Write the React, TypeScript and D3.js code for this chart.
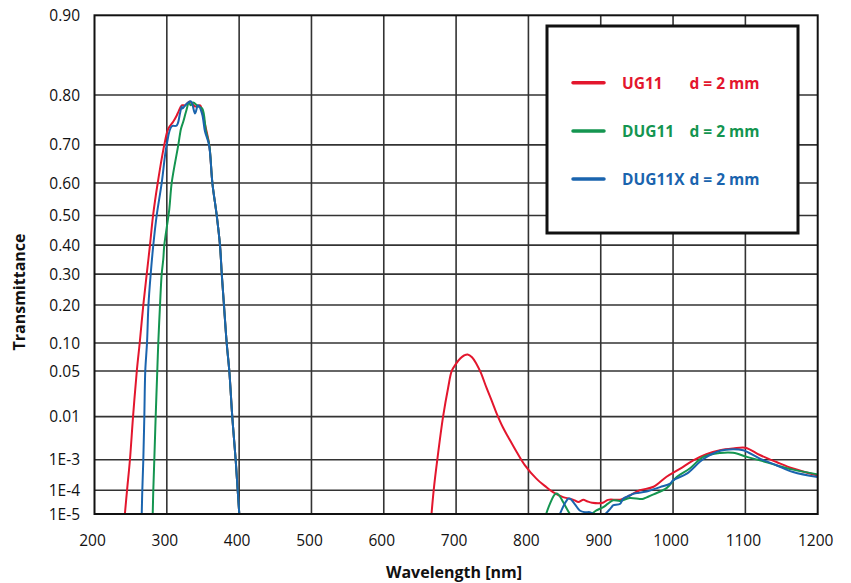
import React from "react";
import * as d3 from "d3";

// ---------- data ----------
const xTicks = [200, 300, 400, 500, 600, 700, 800, 900, 1000, 1100, 1200];
const yTickValues = [0.9, 0.8, 0.7, 0.6, 0.5, 0.4, 0.3, 0.2, 0.1, 0.05, 0.01, 1e-3, 1e-4, 1e-5];
const yTickLabels = ["0.90", "0.80", "0.70", "0.60", "0.50", "0.40", "0.30", "0.20", "0.10", "0.05", "0.01", "1E-3", "1E-4", "1E-5"];

// null = gap (below 1E-5)
const ug11Wl = [242, 245, 249, 253.3, 258.5, 262.5, 267.5, 272.2, 276.7, 281, 287.4, 296.5, 302, 309, 313.7, 316, 320.6, 325, 332, 339, 346, 350, 355, 358.7, 363, 369, 373.5, 376, 379, 382.8, 386.4, 390.5, 395.2, 398, 400.2,
  null,
  666, 669, 674, 682, 689, 694, 700, 706, 711, 716, 722, 728, 734, 742, 750, 756, 765, 772, 784, 795, 811, 825, 834, 848, 857, 864, 869, 876, 881, 888, 903, 910, 927, 940, 954, 973, 991, 1010, 1028, 1046, 1065, 1083, 1100, 1120, 1143, 1166, 1200];
const ug11T = [1e-5, 1e-4, 1e-3, 0.01, 0.05, 0.1, 0.2, 0.3, 0.4, 0.5, 0.6, 0.7, 0.736, 0.751, 0.763, 0.77, 0.782, 0.782, 0.789, 0.78, 0.782, 0.763, 0.73, 0.7, 0.6, 0.5, 0.4, 0.3, 0.2, 0.1, 0.05, 0.01, 1e-3, 1e-4, 1e-5,
  null,
  1e-5, 1e-4, 1e-3, 0.01, 0.03, 0.05, 0.061, 0.07, 0.075, 0.077, 0.072, 0.061, 0.048, 0.03, 0.018, 0.0115, 0.006, 0.0038, 0.0016, 7e-4, 2.6e-4, 1.3e-4, 8.5e-5, 5.4e-5, 4.7e-5, 4e-5, 3.4e-5, 4.2e-5, 3.7e-5, 3.2e-5, 3.2e-5, 4.2e-5, 4.3e-5, 6.3e-5, 1e-4, 1.35e-4, 3e-4, 5.5e-4, 9.6e-4, 1.42e-3, 1.8e-3, 2.0e-3, 2.1e-3, 1.35e-3, 8.6e-4, 5.5e-4, 3.3e-4];

const dug11Wl = [280.5, 281.3, 282.7, 284.6, 286.8, 288.2, 290.6, 292.9, 295.1, 296.5, 303.4, 306.7, 315.9, 319.6, 322.8, 326.5, 330.7, 333, 336.2, 343.5, 349, 354.2, 358.7, 363, 369, 373.5, 376, 379, 382.8, 386.4, 390.5, 395.2, 398, 400.2,
  null,
  824.5, 830, 836.7, 840, 844, 848, 857.5, 862, 880, 885, 894, 903.5, 910, 917, 927, 940, 954, 959, 973, 991, 1005, 1023, 1042, 1065, 1083, 1102, 1120, 1143, 1166, 1200];
const dug11T = [1e-5, 1e-4, 1e-3, 0.01, 0.05, 0.1, 0.2, 0.3, 0.351, 0.4, 0.52, 0.6, 0.7, 0.736, 0.751, 0.77, 0.787, 0.782, 0.787, 0.78, 0.776, 0.73, 0.7, 0.6, 0.5, 0.4, 0.3, 0.2, 0.1, 0.05, 0.01, 1e-3, 1e-4, 1e-5,
  null,
  1e-5, 3e-5, 7e-5, 7.4e-5, 5.5e-5, 3.4e-5, 1e-5, 7e-6, 8e-6, 9e-6, 1.46e-5, 2.05e-5, 2.9e-5, 4e-5, 3.8e-5, 5e-5, 4.6e-5, 4.7e-5, 7e-5, 1.2e-4, 2.95e-4, 5.5e-4, 1.2e-3, 1.53e-3, 1.55e-3, 1.2e-3, 9.6e-4, 6.9e-4, 5.1e-4, 3.6e-4];

const dug11xWl = [265.3, 266.1, 267.5, 268.9, 270.2, 272.6, 274.6, 277.7, 281.3, 286, 292.9, 299.8, 306.7, 313.7, 318.2, 320.6, 321.5, 327.5, 333.4, 339, 343.1, 348.6, 352.8, 358.3, 363, 369, 373.5, 376, 379, 382.8, 386.4, 390.5, 395.2, 398, 400.2,
  null,
  843.6, 849, 853, 855, 857.5, 864.4, 871, 878, 885, 890, 898, 906, 915, 917, 927, 931, 940, 945, 950, 963.5, 982, 996, 1000, 1019, 1042, 1065, 1083, 1097, 1120, 1143, 1166, 1200];
const dug11xT = [1e-5, 1e-4, 1e-3, 0.01, 0.05, 0.1, 0.2, 0.3, 0.4, 0.5, 0.6, 0.7, 0.741, 0.743, 0.767, 0.78, 0.776, 0.785, 0.789, 0.767, 0.782, 0.767, 0.73, 0.7, 0.6, 0.5, 0.4, 0.3, 0.2, 0.1, 0.05, 0.01, 1e-3, 1e-4, 1e-5,
  null,
  1e-5, 2.5e-5, 4e-5, 4.7e-5, 4.7e-5, 2.7e-5, 1.46e-5, 1.22e-5, 1.22e-5, 1e-5, 8e-6, 1e-5, 2.05e-5, 2.44e-5, 2.9e-5, 4.7e-5, 6.3e-5, 7.4e-5, 7.8e-5, 9e-5, 1.31e-4, 1.75e-4, 2.28e-4, 3.8e-4, 1.05e-3, 1.75e-3, 1.92e-3, 1.8e-3, 1.08e-3, 6.9e-4, 4.3e-4, 2.95e-4];

const seriesNames = ["UG11", "DUG11", "DUG11X"];
const seriesColors = ["#e3162d", "#149550", "#1a64ae"];
const seriesThickness = "d = 2 mm";

// ---------- layout ----------
const W = 851;
const H = 583;
const left = 94.5;
const right = 817.7;
const top = 15.3;
const bottom = 514;

const diabatic = (t: number) => Math.log10(-Math.log10(t));

export default function App() {
  const x = d3.scaleLinear().domain([200, 1200]).range([left, right]);
  const yLin = d3.scaleLinear().domain([diabatic(0.9), diabatic(1e-5)]).range([top, bottom]);
  const y = (t: number) => yLin(diabatic(t));

  const mk = (wl: (number | null)[], tt: (number | null)[]) =>
    wl.map((w, i) => ({ w, t: tt[i] }));
  const series = [mk(ug11Wl, ug11T), mk(dug11Wl, dug11T), mk(dug11xWl, dug11xT)];

  const line = d3
    .line<{ w: number | null; t: number | null }>()
    .defined((d) => d.w != null && d.t != null)
    .x((d) => x(d.w as number))
    .y((d) => y(d.t as number))
    .curve(d3.curveCatmullRom.alpha(0.5));

  const font = "'Open Sans', 'Noto Sans', sans-serif";
  const legendX = 547;
  const legendY = 26;
  const legendRows = [82.7, 131, 179];

  return (
    <svg
      width={W}
      height={H}
      style={{ position: "absolute", left: 0, top: 0, background: "#fff" }}
      fontFamily={font}
    >
      <defs>
        <clipPath id="plotclip">
          <rect x={left} y={top} width={right - left} height={bottom - top} />
        </clipPath>
      </defs>
      <rect x={0} y={0} width={W} height={H} fill="#fff" />
      {/* grid */}
      {xTicks.slice(1, -1).map((v) => (
        <line key={"gx" + v} x1={x(v)} x2={x(v)} y1={top} y2={bottom} stroke="#333" strokeWidth={1.6} />
      ))}
      {yTickValues.slice(1, -1).map((v) => (
        <line key={"gy" + v} x1={left} x2={right} y1={y(v)} y2={y(v)} stroke="#333" strokeWidth={1.6} />
      ))}
      {/* curves */}
      <g clipPath="url(#plotclip)">
        {series.map((s, i) => (
          <path key={i} d={line(s) || ""} fill="none" stroke={seriesColors[i]} strokeWidth={2} strokeLinejoin="round" />
        ))}
      </g>
      {/* frame */}
      <rect x={left} y={top} width={right - left} height={bottom - top} fill="none" stroke="#111" strokeWidth={2} />
      {/* y tick labels */}
      {yTickValues.map((v, i) => (
        <text key={"yl" + i} x={80} y={y(v)} dy="0.36em" textAnchor="end" fontSize={15.5} fill="#111">
          {yTickLabels[i]}
        </text>
      ))}
      {/* x tick labels */}
      {xTicks.map((v) => (
        <text key={"xl" + v} x={x(v) - 2} y={546} textAnchor="middle" fontSize={15.5} fill="#111">
          {v}
        </text>
      ))}
      <text x={454} y={578} textAnchor="middle" fontSize={16} fontWeight="bold" fill="#111">
        Wavelength [nm]
      </text>
      <text
        transform={`translate(25, 292) rotate(-90)`}
        textAnchor="middle"
        fontSize={16}
        fontWeight="bold"
        fill="#111"
      >
        Transmittance
      </text>
      {/* legend */}
      <rect x={legendX} y={legendY} width={251} height={207} fill="#fff" stroke="#111" strokeWidth={3} />
      {seriesNames.map((n, i) => (
        <g key={"lg" + n}>
          <line x1={573} x2={604} y1={legendRows[i]} y2={legendRows[i]} stroke={seriesColors[i]} strokeWidth={3.5} strokeLinecap="round" />
          <text x={622} y={legendRows[i]} dy="0.38em" fontSize={15.5} fontWeight="bold" fill={seriesColors[i]}>
            {n}
          </text>
          <text x={689.5} y={legendRows[i]} dy="0.38em" fontSize={15.5} fontWeight="bold" fill={seriesColors[i]}>
            {seriesThickness}
          </text>
        </g>
      ))}
    </svg>
  );
}
